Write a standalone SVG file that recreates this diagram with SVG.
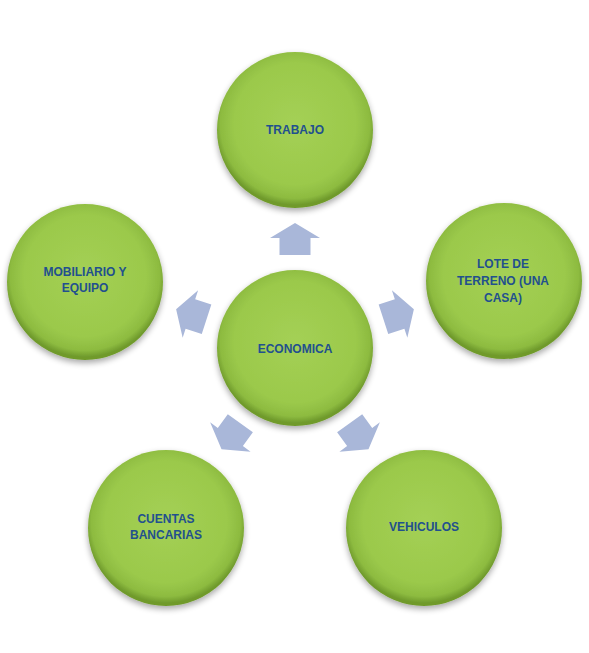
<svg xmlns="http://www.w3.org/2000/svg" width="589" height="653" viewBox="0 0 589 653">
  <defs>
    <radialGradient id="gFill" cx="50%" cy="46%" r="52%">
      <stop offset="0" stop-color="#A4D055"/>
      <stop offset="0.75" stop-color="#9BC94B"/>
      <stop offset="0.92" stop-color="#8DBB40"/>
      <stop offset="1" stop-color="#6F9A2C"/>
    </radialGradient>
    <filter id="shadow" x="-20%" y="-20%" width="140%" height="145%">
      <feGaussianBlur in="SourceAlpha" stdDeviation="3"/>
      <feOffset dx="0" dy="3" result="b"/>
      <feComponentTransfer><feFuncA type="linear" slope="0.35"/></feComponentTransfer>
      <feMerge><feMergeNode/><feMergeNode in="SourceGraphic"/></feMerge>
    </filter>
    <path id="arrowShape" d="M93,-15.5 L110,-15.5 L110,-25 L125,0 L110,25 L110,15.5 L93,15.5 Z"/>
  </defs>
  <style>
    .circ { fill: url(#gFill); filter: url(#shadow); }
    .arrow { fill: #A9B7D9; }
    .lbl { font-family: "Liberation Sans", Arial, sans-serif; font-weight: bold; font-size: 12px; fill: #22508E; text-anchor: middle; }
  </style>
  <rect width="589" height="653" fill="#FFFFFF"/>

  <g id="connectors">
    <use href="#arrowShape" class="arrow" transform="translate(295,348) rotate(-90)"/>
    <use href="#arrowShape" class="arrow" transform="translate(295,348) rotate(-18)"/>
    <use href="#arrowShape" class="arrow" transform="translate(295,348) rotate(54)"/>
    <use href="#arrowShape" class="arrow" transform="translate(295,348) rotate(126)"/>
    <use href="#arrowShape" class="arrow" transform="translate(295,348) rotate(198)"/>
  </g>

  <g id="node-economica">
    <circle class="circ" cx="295" cy="348" r="78"/>
    <text class="lbl" x="295" y="353">ECONOMICA</text>
  </g>
  <g id="node-trabajo">
    <circle class="circ" cx="295" cy="130" r="78"/>
    <text class="lbl" x="295" y="134">TRABAJO</text>
  </g>
  <g id="node-lote">
    <circle class="circ" cx="504" cy="281" r="78"/>
    <text class="lbl" x="503" y="268">LOTE DE</text>
    <text class="lbl" x="503" y="285">TERRENO (UNA</text>
    <text class="lbl" x="503" y="302">CASA)</text>
  </g>
  <g id="node-vehiculos">
    <circle class="circ" cx="424" cy="528" r="78"/>
    <text class="lbl" x="424" y="531">VEHICULOS</text>
  </g>
  <g id="node-cuentas">
    <circle class="circ" cx="166" cy="528" r="78"/>
    <text class="lbl" x="166" y="523">CUENTAS</text>
    <text class="lbl" x="166" y="539">BANCARIAS</text>
  </g>
  <g id="node-mobiliario">
    <circle class="circ" cx="85" cy="282" r="78"/>
    <text class="lbl" x="85" y="276">MOBILIARIO Y</text>
    <text class="lbl" x="85" y="292">EQUIPO</text>
  </g>
</svg>
